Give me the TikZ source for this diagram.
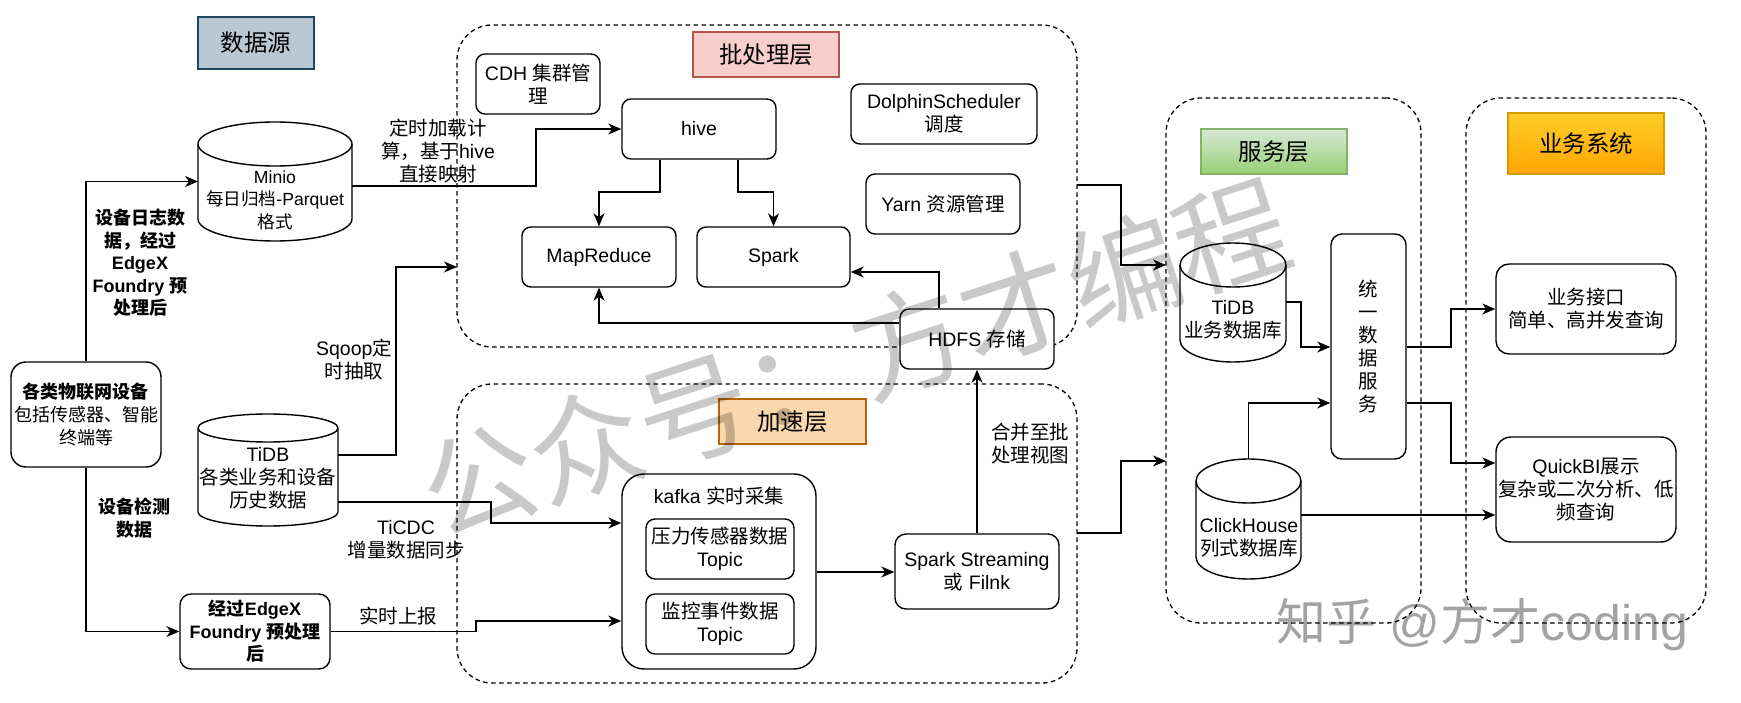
\documentclass[tikz,border=0pt]{standalone}
\usepackage{fontspec}
\setmainfont{Liberation Sans}
\newfontfamily\cjk{Noto Sans CJK SC}
\newfontfamily\lat{Liberation Sans}
\usetikzlibrary{arrows.meta}
\XeTeXinterchartokenstate=1
\newXeTeXintercharclass\CJKcls
\newcommand\setcjkrange[2]{\count255=#1\relax\loop\XeTeXcharclass\count255=\CJKcls\relax\advance\count255 by 1\relax\ifnum\count255<#2\relax\repeat}
\setcjkrange{"3000}{"3040}
\setcjkrange{"4E00}{"A000}
\setcjkrange{"FF00}{"FFF0}
\XeTeXinterchartoks 0 \CJKcls = {\cjk}
\XeTeXinterchartoks 4095 \CJKcls = {\cjk}
\XeTeXinterchartoks \CJKcls 0 = {\lat}
\XeTeXinterchartoks \CJKcls 4095 = {\lat}
\newcommand\fnorm{\fontsize{19.5}{23}\selectfont}
\newcommand\fsmall{\fontsize{17.6}{22.5}\selectfont}
\newcommand\fmid{\fontsize{18}{23}\selectfont}
\newcommand\fbold{\fontsize{18}{22.5}\selectfont\bfseries}
\newcommand\ftitle{\fontsize{23.5}{28}\selectfont}
\definecolor{dsfill}{HTML}{BAC8D3}\definecolor{dsline}{HTML}{23445D}
\definecolor{bfill}{HTML}{F8CECC}\definecolor{bline}{HTML}{B85450}
\definecolor{sfill}{HTML}{FAD7AC}\definecolor{sline}{HTML}{B46504}
\definecolor{gtop}{HTML}{D5E8D4}\definecolor{gbot}{HTML}{97D077}\definecolor{gline}{HTML}{82B366}
\definecolor{otop}{HTML}{FFCD28}\definecolor{obot}{HTML}{FFA500}\definecolor{oline}{HTML}{D79B00}
\tikzset{
  cont/.style={draw, dash pattern=on 4.5pt off 3.5pt, line width=1.3pt, rounded corners=35pt, inner sep=0pt, outer sep=0pt},
  ttl/.style={draw, line width=1.2pt, inner sep=0pt, font=\ftitle, align=center},
  box/.style={draw, line width=1.4pt, fill=white, rounded corners=9pt, inner sep=2pt, font=\fnorm, align=center},
  lbl/.style={inner sep=0pt, font=\fnorm, align=center},
  cylst/.style={line width=1.4pt, fill=white},
  arr/.style={line width=1.5pt, -{Stealth[length=13pt,width=11pt,inset=4pt]}},
}
\newcommand\cylnode[6]{%
  \node[inner sep=0pt, outer sep=0pt, minimum width={(#4-#2)*1pt}, minimum height={(#5-#3)*1pt}] (#1) at ({(#2+#4)/2},{(#3+#5)/2}) {};
  \filldraw[cylst, draw=black] (#2,{#3+#6}) -- (#2,{#5-#6}) arc[start angle=180,end angle=360,x radius={(#4-#2)/2*1pt},y radius={#6*1pt}] -- (#4,{#3+#6}) arc[start angle=0,end angle=180,x radius={(#4-#2)/2*1pt},y radius={#6*1pt}] -- cycle;
  \draw[cylst] (#2,{#3+#6}) arc[start angle=180,end angle=360,x radius={(#4-#2)/2*1pt},y radius={#6*1pt}];
}
\begin{document}
\begin{tikzpicture}[x=1pt,y=-1pt,line join=miter]
\useasboundingbox (0,0) rectangle (1741,703);
\fill[white] (0,0) rectangle (1741,703);
% containers
\node[cont, minimum width=620pt, minimum height=322pt] (batch) at (767,186) {};
\node[cont, minimum width=620pt, minimum height=299pt] (speed) at (767,533.5) {};
\node[cont, minimum width=255pt, minimum height=525pt] (svc) at (1293.5,360.5) {};
\node[cont, minimum width=240pt, minimum height=525pt] (biz) at (1586,360.5) {};
% titles
\node[ttl, fill=dsfill, draw=dsline, minimum width=116pt, minimum height=52pt] (ds) at (256,43) {数据源};
\node[ttl, fill=bfill, draw=bline, minimum width=146pt, minimum height=45pt] (bt) at (766,54.5) {批处理层};
\node[ttl, fill=sfill, draw=sline, minimum width=147pt, minimum height=45pt] (st) at (792.5,421.5) {加速层};
\node[ttl, top color=gtop, bottom color=gbot, draw=gline, minimum width=146pt, minimum height=45pt] (svt) at (1274,151.5) {服务层};
\node[ttl, top color=otop, bottom color=obot, draw=oline, minimum width=156pt, minimum height=61pt] (bzt) at (1586,143.5) {业务系统};
% left side
\node[box, rounded corners=15pt, font=\fmid, minimum width=150pt, minimum height=105pt] (iot) at (86,414.5) {{\bfseries 各类物联网设备}\\包括传感器、智能\\终端等};
\node[box, rounded corners=11pt, font=\fbold, minimum width=150pt, minimum height=75pt] (edgex) at (255,631.5) {经过EdgeX\\Foundry 预处理\\后};
\cylnode{minio}{198}{122}{352}{241}{22}
\node[lbl, font=\fsmall] (minio-t) at (275,200) {Minio\\每日归档-Parquet\\格式};
\cylnode{tidb1}{198}{414}{338}{526}{14}
\node[lbl] (tidb1-t) at (268,478) {TiDB\\各类业务和设备\\历史数据};
% batch layer
\node[box, minimum width=124pt, minimum height=60pt] (cdh) at (538,84) {CDH 集群管\\理};
\node[box, minimum width=154pt, minimum height=60pt] (hive) at (699,129) {hive};
\node[box, minimum width=154pt, minimum height=60pt] (mr) at (599,257) {MapReduce};
\node[box, minimum width=153pt, minimum height=60pt] (spark) at (773.5,257) {Spark};
\node[box, minimum width=186pt, minimum height=60pt] (dolphin) at (944,114) {DolphinScheduler\\调度};
\node[box, minimum width=154pt, minimum height=60pt] (yarn) at (943,204) {Yarn 资源管理};
\node[box, minimum width=154pt, minimum height=60pt] (hdfs) at (977,339) {HDFS 存储};
% speed layer
\node[box, rounded corners=22pt, minimum width=194pt, minimum height=195pt] (kafka) at (719,571.5) {};
\node[lbl] (kafka-t) at (719,496) {kafka 实时采集};
\node[box, minimum width=148pt, minimum height=60pt] (t1) at (720,549) {压力传感器数据\\Topic};
\node[box, minimum width=148pt, minimum height=60pt] (t2) at (720,624) {监控事件数据\\Topic};
\node[box, rounded corners=11pt, minimum width=164pt, minimum height=75pt] (ss) at (977,571.5) {Spark Streaming\\或 Filnk};
% service layer
\cylnode{tidb2}{1180}{243}{1286}{362}{22}
\node[lbl] (tidb2-t) at (1233,320) {TiDB\\业务数据库};
\node[box, rounded corners=11pt, minimum width=75pt, minimum height=225pt] (uni) at (1368.5,346.5) {统\\一\\数\\据\\服\\务};
\cylnode{ch}{1196}{459}{1301}{579}{22}
\node[lbl] (ch-t) at (1249,538) {ClickHouse\\列式数据库};
% business
\node[box, rounded corners=13pt, minimum width=180pt, minimum height=90pt] (api) at (1586,309) {业务接口\\简单、高并发查询};
\node[box, rounded corners=15pt, minimum width=180pt, minimum height=105pt] (qbi) at (1586,489.5) {QuickBI展示\\复杂或二次分析、低\\频查询};
% edge labels
\node[lbl] (l1) at (438,151) {定时加载计\\算，基于hive\\直接映射};
\node[lbl] (l2) at (354,360) {Sqoop定\\时抽取};
\node[lbl] (l3) at (406,540) {TiCDC\\增量数据同步};
\node[lbl] (l4) at (398,616) {实时上报};
\node[lbl, font=\fbold] (l5) at (140,263) {设备日志数\\据，经过\\EdgeX\\Foundry 预\\处理后};
\node[lbl, font=\fbold] (l6) at (134,518) {设备检测\\数据};
\node[lbl] (l7) at (1030,444) {合并至批\\处理视图};
% connectors
\draw[arr] (iot.north) |- (minio.west);
\draw[arr] (iot.south) |- (edgex.west);
\draw[arr] (minio.east |- 0,186) -- (536,186) |- (hive.west);
\draw[arr] (tidb1.east |- 0,455) -- (396,455) |- (batch.west |- 0,267);
\draw[arr] (tidb1.east |- 0,502) -- (491,502) |- (kafka.west |- 0,523);
\draw[arr] (edgex.east) -- (476,631.5) |- (kafka.west |- 0,621);
\draw[arr] (hive.south -| 660,0) -- (660,192) -| (mr.north);
\draw[arr] (hive.south -| 738,0) -- (738,192) -| (spark.north);
\draw[arr] (hdfs.north -| 939,0) |- (spark.east |- 0,272);
\draw[arr] (hdfs.west |- 0,323) -| (mr.south);
\draw[arr] (kafka.east |- 0,572) -- (ss.west |- 0,572);
\draw[arr] (ss.north) -- (hdfs.south);
\draw[arr] (batch.east |- 0,185) -- (1121,185) |- (svc.west |- 0,265);
\draw[arr] (speed.east |- 0,533) -- (1121,533) |- (svc.west |- 0,461);
\draw[arr] (tidb2.east |- 0,302) -- (1301,302) |- (uni.west |- 0,347);
\draw[arr] (ch.north) |- (uni.west |- 0,403);
\draw[arr] (uni.east |- 0,347) -- (1451,347) |- (api.west);
\draw[arr] (uni.east |- 0,403) -- (1451,403) |- (qbi.west |- 0,463);
\draw[arr] (ch.east |- 0,515) -- (qbi.west |- 0,515);
% watermarks
\node[inner sep=0pt, rotate=18, text=black, text opacity=0.21, font=\fontsize{113}{113}\selectfont] (wm1) at (855,358) {公众号：方才编程};
\node[inner sep=0pt, text=black, text opacity=0.36, font=\fontsize{50}{50}\selectfont] (wm2) at (1482,625) {知乎 @方才coding};
\end{tikzpicture}
\end{document}
